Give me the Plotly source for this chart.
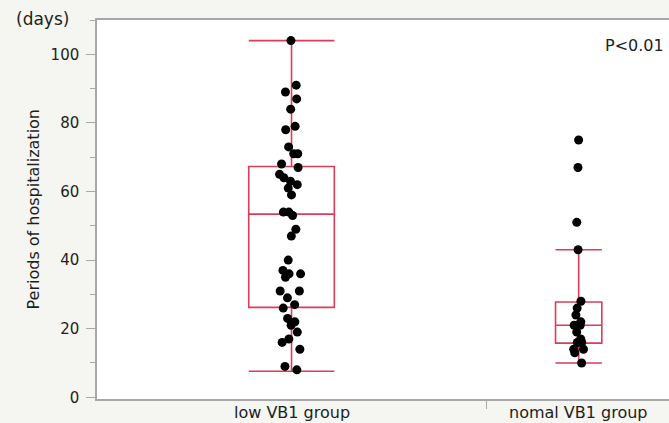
import plotly.graph_objects as go

# ---- data ----
groups = ["low VB1 group", "nomal VB1 group"]
low_vb1 = [104, 91, 89, 87, 84, 79, 78, 73, 71, 71, 68, 67, 65, 64, 63, 62, 61, 59,
           54, 54, 53, 49, 47, 40, 37, 36, 36, 35, 31, 31, 29, 27, 26, 23, 22, 21,
           19, 17, 16, 14, 9, 8]
normal_vb1 = [75, 67, 51, 43, 28, 26, 24, 22, 21, 21, 21, 19, 17, 16, 16, 16, 14, 14, 13, 10]
box_q1 = [26.2, 15.8]
box_median = [53.4, 21.0]
box_q3 = [67.3, 27.8]
box_low = [7.6, 10.0]
box_high = [104.0, 43.0]
y_ticks = [0, 20, 40, 60, 80, 100]
p_text = "P<0.01"

# ---- styles ----
RED = "#dc3c5a"
AX = "#a8a8a8"
TXT = "#1e1e1e"
FONT = "DejaVu Sans"
BOX_FRAC = [0.22, 0.25]

samples = [low_vb1, normal_vb1]
counts = [len(s) for s in samples]
starts = [sum(counts[:i]) for i in range(len(counts))]
centers = [starts[i] + counts[i] / 2 for i in range(len(counts))]
total = sum(counts)

fig = go.Figure()
for i, g in enumerate(groups):
    w = BOX_FRAC[i] * counts[i]
    fig.add_trace(go.Box(
        x=[centers[i]], q1=[box_q1[i]], median=[box_median[i]], q3=[box_q3[i]],
        lowerfence=[box_low[i]], upperfence=[box_high[i]],
        width=w, whiskerwidth=1, boxpoints=False,
        line=dict(color=RED, width=1.6), fillcolor="rgba(0,0,0,0)",
        showlegend=False, hoverinfo="skip"))
    fig.add_trace(go.Box(
        x=[centers[i]] * counts[i], y=samples[i], width=w,
        boxpoints="all", jitter=0.3, pointpos=0,
        line=dict(width=0, color="rgba(0,0,0,0)"), fillcolor="rgba(0,0,0,0)",
        marker=dict(color="black", size=9, line=dict(width=0)),
        showlegend=False, name=g))

fig.update_layout(
    width=669, height=423,
    margin=dict(l=97, r=0, t=20, b=24),
    paper_bgcolor="#f5f5f1", plot_bgcolor="white",
    font=dict(family=FONT, color=TXT, size=14),
    boxmode="overlay",
    xaxis=dict(range=[0, total - 0.25], showgrid=False, zeroline=False,
               showline=True, linecolor=AX, linewidth=1.5, mirror=True,
               tickvals=[starts[1]], ticktext=[""], ticks="outside",
               ticklen=8, tickcolor=AX, tickwidth=1),
    yaxis=dict(range=[-0.5, 110], showgrid=False, zeroline=False,
               showline=True, linecolor=AX, linewidth=1.5,
               tickvals=y_ticks, ticks="outside", ticklen=9, tickcolor=AX,
               tickwidth=1, ticklabelstandoff=4,
               tickfont=dict(size=15, color=TXT, family=FONT),
               minor=dict(dtick=10, ticks="outside", ticklen=5, tickcolor=AX)),
)

anns = [
    dict(text="(days)", xref="paper", yref="paper", x=0, y=1, xshift=-83,
         yshift=1, xanchor="left", yanchor="middle", showarrow=False,
         font=dict(size=17, family=FONT, color=TXT)),
    dict(text=p_text, xref="paper", yref="paper", x=1, y=1, xshift=-3,
         yshift=-25, xanchor="right", yanchor="middle", showarrow=False,
         font=dict(size=16, family=FONT, color=TXT)),
    dict(text="Periods of hospitalization", xref="paper", yref="paper", x=0,
         y=0.5, xshift=-64, textangle=-90, xanchor="center", yanchor="middle",
         showarrow=False, font=dict(size=16, family=FONT, color=TXT)),
]
for i, g in enumerate(groups):
    anns.append(dict(text=g, xref="x", yref="paper", x=centers[i], y=0,
                     yshift=-2, xanchor="center", yanchor="top", showarrow=False,
                     font=dict(size=16, family=FONT, color=TXT)))
fig.update_layout(annotations=anns)

fig.write_html("out.html", config={"displayModeBar": False},
               post_script="document.body.style.margin='0';document.body.style.overflow='hidden';")
